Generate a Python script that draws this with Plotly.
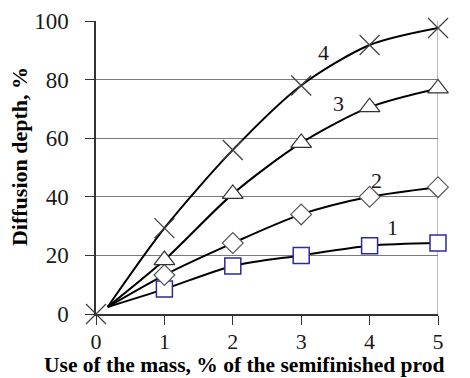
import plotly.graph_objects as go

# Data
x_vals = [1, 2, 3, 4, 5]
s1 = [8.5, 16.4, 20.0, 23.3, 24.2]
s2 = [13.3, 24.2, 34.0, 40.0, 43.3]
s3 = [18.4, 41.0, 58.4, 70.6, 77.0]
s4_x = [0, 1, 2, 3, 4, 5]
s4 = [0, 29.3, 56.0, 78.0, 91.8, 97.6]
line_start_x = 0.17
line_start_y = 2.4
curve_labels = ["1", "2", "3", "4"]
label_x = [4.33, 4.1, 3.55, 3.32]
label_y = [29.4, 45.7, 72.0, 89.4]
x_ticks = [0, 1, 2, 3, 4, 5]
y_ticks = [0, 20, 40, 60, 80, 100]
x_title = "Use of the mass, % of the semifinished prod"
y_title = "Diffusion depth, %"

FONT = "Liberation Serif"
fig = go.Figure()

# smooth curves
for ys in [s1, s2, s3, s4[1:]]:
    fig.add_trace(go.Scatter(
        x=[line_start_x] + x_vals, y=[line_start_y] + ys,
        mode="lines", line=dict(color="black", width=2, shape="spline", smoothing=0.8),
        showlegend=False, hoverinfo="skip", cliponaxis=False))

fig.add_trace(go.Scatter(x=x_vals, y=s1, mode="markers", cliponaxis=False, showlegend=False,
    marker=dict(symbol="square", size=16, color="white", line=dict(color="#2b2ba0", width=1.5))))
fig.add_trace(go.Scatter(x=x_vals, y=s2, mode="markers", cliponaxis=False, showlegend=False,
    marker=dict(symbol="diamond", size=16, color="white", line=dict(color="#555555", width=1.2))))
fig.add_trace(go.Scatter(x=x_vals, y=s3, mode="markers", cliponaxis=False, showlegend=False,
    marker=dict(symbol="triangle-up", size=18, color="white", line=dict(color="#333333", width=1.2))))
fig.add_trace(go.Scatter(x=s4_x, y=s4, mode="markers", cliponaxis=False, showlegend=False,
    marker=dict(symbol="x-thin-open", size=20, color="#444444", line=dict(color="#444444", width=1.3))))

annotations = []
for t, lx, ly in zip(curve_labels, label_x, label_y):
    annotations.append(dict(x=lx, y=ly, xref="x", yref="y", text=t, showarrow=False,
                            font=dict(family=FONT, size=22, color="#1a1a1a")))
annotations.append(dict(x=-0.155, y=-0.2184, xref="paper", yref="paper", text="<b>" + x_title + "</b>",
                        showarrow=False, xanchor="left", yanchor="bottom", borderpad=0,
                        font=dict(family=FONT, size=21.5, color="black")))
annotations.append(dict(x=-0.222, y=0.536, xref="paper", yref="paper", text="<b>" + y_title + "</b>",
                        showarrow=False, xanchor="center", yanchor="middle", textangle=-90, borderpad=0,
                        font=dict(family=FONT, size=22, color="black")))

fig.update_layout(
    width=462, height=370,
    margin=dict(l=88, r=32, t=13, b=64, autoexpand=False),
    paper_bgcolor="white", plot_bgcolor="white",
    annotations=annotations,
    showlegend=False,
)
fig.update_xaxes(range=[0, 5], tickvals=x_ticks, ticks="outside", ticklen=9, tickcolor="#333333",
                 showline=True, linecolor="#333333", linewidth=1.5, showgrid=False, zeroline=False,
                 automargin=False, ticklabelstandoff=-2,
                 mirror=False, tickfont=dict(family=FONT, size=22, color="#1a1a1a"))
fig.update_yaxes(range=[0, 100], tickvals=y_ticks, ticks="outside", ticklen=9, tickcolor="#333333",
                 showline=True, linecolor="#333333", linewidth=1.5, showgrid=True, gridcolor="#7a7a7a",
                 automargin=False, ticklabelstandoff=12,
                 gridwidth=1, zeroline=False, tickfont=dict(family=FONT, size=23, color="#1a1a1a"))
# right border line
fig.add_shape(type="line", xref="x", yref="y", x0=5, x1=5, y0=0, y1=100,
              line=dict(color="#7a7a7a", width=1), layer="below")

fig.write_html("out.html")
